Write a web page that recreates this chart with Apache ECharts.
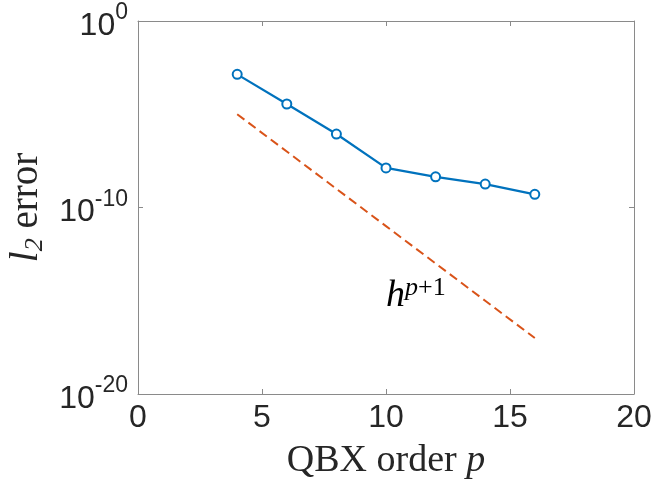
<!DOCTYPE html>
<html>
<head>
<meta charset="utf-8">
<script src="https://cdn.jsdelivr.net/npm/echarts@6/dist/echarts.min.js"></script>
<style>
html,body{margin:0;padding:0;background:#fff;}
#chart{width:655px;height:487px;}
</style>
</head>
<body>
<div id="chart"></div>
<script>
// ---- data ----
var orders = [4, 6, 8, 10, 12, 14, 16];
var l2Error = [1.38e-3, 3.55e-5, 8.7e-7, 1.32e-8, 4.4e-9, 1.8e-9, 5.1e-10];
var refRate = [1e-5, 1e-7, 1e-9, 1e-11, 1e-13, 1e-15, 1e-17];
var xTicks = [0, 5, 10, 15, 20];
var yTickExponents = [0, -10, -20];
var annotation = { p: 10.0, value: 2e-16 };

var textColor = '#262626';
var axisColor = '#8a8a8a';
var serif = 'Liberation Serif, Times New Roman, serif';
var sans = 'Liberation Sans, Arial, sans-serif';
var chart = echarts.init(document.getElementById('chart'), null, {renderer: 'canvas'});

function yLabel(v) {
  var e = Math.round(Math.log10(v));
  return '{b|10}{s|' + e + '}';
}

var option = {
  animation: false,
  backgroundColor: '#fff',
  grid: { left: 138, right: 21, top: 21, bottom: 93, containLabel: false, outerBoundsMode: 'none' },
  xAxis: [{
    type: 'value', min: xTicks[0], max: xTicks[xTicks.length - 1], interval: 5,
    axisLine: { show: true, onZero: false, lineStyle: { color: axisColor, width: 1 } },
    axisTick: { show: true, inside: true, length: 5, lineStyle: { color: axisColor } },
    splitLine: { show: false },
    axisLabel: { color: textColor, fontFamily: sans, fontSize: 32, margin: 8 },
    name: '{n|QBX order }{i|p}', nameLocation: 'middle', nameGap: 48,
    nameTextStyle: {
      rich: {
        n: { fontFamily: serif, fontSize: 38, color: textColor },
        i: { fontFamily: serif, fontStyle: 'italic', fontSize: 38, color: textColor }
      }
    }
  }, {
    type: 'value', min: xTicks[0], max: xTicks[xTicks.length - 1], interval: 5, position: 'top',
    axisLine: { show: true, onZero: false, lineStyle: { color: axisColor, width: 1 } },
    axisTick: { show: true, inside: true, length: 5, lineStyle: { color: axisColor } },
    axisLabel: { show: false }, splitLine: { show: false }
  }],
  yAxis: [{
    type: 'log', logBase: 10, min: 1e-20, max: 1, interval: 10,
    axisLine: { show: true, onZero: false, lineStyle: { color: axisColor, width: 1 } },
    axisTick: { show: true, inside: true, length: 5, lineStyle: { color: axisColor } },
    minorTick: { show: false },
    splitLine: { show: false },
    axisLabel: {
      margin: 10, formatter: yLabel,
      rich: {
        b: { fontFamily: sans, fontSize: 32, color: textColor, lineHeight: 30, padding: [10, 0, 0, 0] },
        s: { fontFamily: sans, fontSize: 23, color: textColor, lineHeight: 20, padding: [0, 0, 16, 0] }
      }
    },
    name: '{i|l}{sub|2}{n| error}', nameLocation: 'middle', nameGap: 84, nameRotate: 90,
    nameTextStyle: {
      rich: {
        i: { fontFamily: serif, fontStyle: 'italic', fontSize: 39, color: textColor, lineHeight: 40 },
        sub: { fontFamily: serif, fontStyle: 'italic', fontSize: 26, color: textColor, lineHeight: 20, padding: [18, 0, 0, 0] },
        n: { fontFamily: serif, fontSize: 39, color: textColor, lineHeight: 40 }
      }
    }
  }, {
    type: 'log', logBase: 10, min: 1e-20, max: 1, interval: 10, position: 'right',
    axisLine: { show: true, onZero: false, lineStyle: { color: axisColor, width: 1 } },
    axisTick: { show: true, inside: true, length: 5, lineStyle: { color: axisColor } },
    axisLabel: { show: false }, splitLine: { show: false }, minorTick: { show: false }
  }],
  series: [{
    name: 'l2 error', type: 'line', xAxisIndex: 0, yAxisIndex: 0,
    data: orders.map(function (p, i) { return [p, l2Error[i]]; }),
    lineStyle: { color: '#0072BD', width: 2.2 },
    symbol: 'circle', symbolSize: 9,
    itemStyle: { color: '#fff', borderColor: '#0072BD', borderWidth: 2 },
    z: 3
  }, {
    name: 'h^(p+1)', type: 'line', xAxisIndex: 0, yAxisIndex: 0,
    data: orders.map(function (p, i) { return [p, refRate[i]]; }),
    lineStyle: { color: '#D95319', width: 2, type: [9, 5] },
    symbol: 'none', z: 2
  }]
};
chart.setOption(option);

var pt = chart.convertToPixel({ gridIndex: 0 }, [annotation.p, annotation.value]);
chart.setOption({
  graphic: [{
    type: 'text', x: pt[0], y: pt[1],
    style: {
      text: '{h|h}{p|p}{s|+1}',
      align: 'left', verticalAlign: 'bottom',
      rich: {
        h: { fontFamily: serif, fontStyle: 'italic', fontSize: 38, fill: '#000', lineHeight: 36 },
        p: { fontFamily: serif, fontStyle: 'italic', fontSize: 26, fill: '#000', lineHeight: 22, padding: [0, 0, 16, 0] },
        s: { fontFamily: serif, fontSize: 26, fill: '#000', lineHeight: 22, padding: [0, 0, 16, 0] }
      }
    }
  }]
});
</script>
</body>
</html>
